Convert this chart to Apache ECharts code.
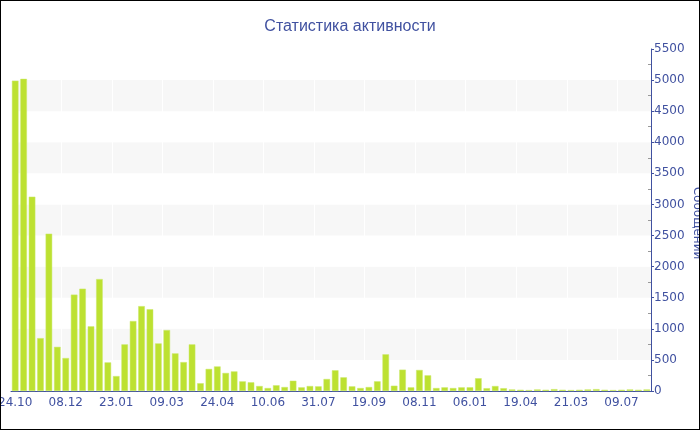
<!DOCTYPE html>
<html>
<head>
<meta charset="utf-8">
<script src="https://cdn.jsdelivr.net/npm/echarts@6/dist/echarts.min.js"></script>
<style>
  html, body { margin: 0; padding: 0; background: #fff; }
  #wrap { position: relative; width: 700px; height: 430px; }
  #chart { width: 700px; height: 430px; }
  #frame { position: absolute; left: 0; top: 0; width: 700px; height: 430px; box-sizing: border-box; border: 1px solid #000; pointer-events: none; }
</style>
</head>
<body>
<div id="wrap">
  <div id="chart"></div>
  <div id="frame"></div>
</div>
<script>
// недели (подписи dd.mm)
const weeks = [
  '24.10','31.10','07.11','14.11','21.11','28.11','08.12','15.12','22.12','29.12',
  '05.01','12.01','23.01','30.01','06.02','13.02','20.02','27.02','09.03','16.03',
  '23.03','30.03','06.04','13.04','24.04','01.05','08.05','15.05','22.05','29.05',
  '10.06','17.06','24.06','01.07','08.07','15.07','31.07','07.08','14.08','21.08',
  '28.08','04.09','19.09','26.09','03.10','10.10','17.10','25.10','08.11','15.11',
  '22.11','29.11','06.12','13.12','06.01','13.01','20.01','27.01','03.02','10.02',
  '19.04','26.04','03.05','10.05','17.05','24.05','21.03','28.03','04.04','11.04',
  '18.04','25.04','09.07','16.07','23.07','30.07'
]
// сообщений за неделю
const messages = [
  4990, 5020, 3125, 850, 2530, 710, 530, 1550, 1645, 1040,
  1800, 460, 240, 750, 1125, 1365, 1315, 765, 980, 605,
  465, 750, 125, 355, 395, 290, 315, 155, 140, 80,
  48, 92, 64, 165, 59, 80, 75, 193, 333, 220,
  75, 48, 64, 156, 590, 85, 343, 59, 338, 252,
  48, 59, 48, 59, 60, 205, 45, 80, 45, 25,
  20, 15, 25, 20, 30, 20, 15, 20, 25, 30,
  20, 15, 20, 25, 20, 25
]
const yMax = 5500
const yStep = 500

const textColor = '#4051a0'
const chart = echarts.init(document.getElementById('chart'))
chart.setOption({
  animation: false,
  textStyle: { fontFamily: 'DejaVu Sans' },
  title: {
    text: 'Статистика активности',
    left: 'center',
    top: 14,
    textStyle: { color: textColor, fontSize: 16, fontWeight: 'normal', fontFamily: 'Liberation Sans' }
  },
  // подпись оси Y (сдвинута к самому краю, как в оригинале)
  graphic: [{
    type: 'text',
    x: 697,
    y: 223,
    rotation: -Math.PI / 2,
    style: {
      text: 'Сообщений',
      fill: textColor,
      font: '12px "DejaVu Sans"',
      align: 'center',
      verticalAlign: 'middle'
    }
  }],
  grid: { left: 11, right: 49, top: 49, bottom: 39, outerBoundsMode: 'none', containLabel: false },
  xAxis: {
    type: 'category',
    data: weeks,
    axisLine: { lineStyle: { color: textColor, width: 1 } },
    axisTick: { alignWithLabel: true, interval: 5, length: 4, lineStyle: { color: '#888' } },
    axisLabel: { interval: 5, color: textColor, fontSize: 12, margin: 6 },
    splitLine: { show: true, interval: 5, lineStyle: { color: '#ffffff' } }
  },
  yAxis: {
    type: 'value',
    position: 'right',
    min: 0,
    max: yMax,
    interval: yStep,
    axisLine: { show: true, lineStyle: { color: textColor } },
    axisTick: { show: true, length: 3, lineStyle: { color: textColor } },
    minorTick: { show: true, splitNumber: 2, length: -3, lineStyle: { color: '#999' } },
    axisLabel: { color: textColor, fontSize: 12, margin: 3, formatter: v => String(v) },
    splitLine: { show: false },
    splitArea: { show: true, areaStyle: { color: ['#ffffff', '#f7f7f7'] } }
  },
  series: [{
    type: 'bar',
    data: messages,
    barCategoryGap: '22%',
    itemStyle: { color: '#bde131', borderColor: '#cbe86a', borderWidth: 0.5 }
  }]
})
</script>
</body>
</html>
